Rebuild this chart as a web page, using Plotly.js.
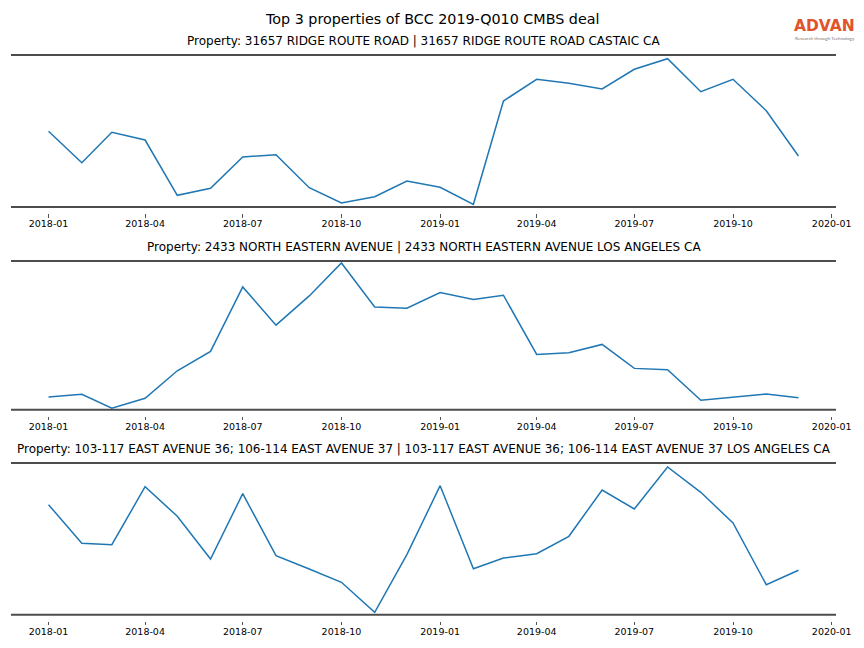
<!DOCTYPE html>
<html><head><meta charset="utf-8">
<script src="https://cdn.plot.ly/plotly-3.0.1.min.js"></script>
<style>html,body{margin:0;padding:0;background:#fff}#chart{width:864px;height:648px}</style>
</head><body><div id="chart"></div>
<script>
const months = ['2018-01-01','2018-02-01','2018-03-01','2018-04-01','2018-05-01','2018-06-01',
  '2018-07-01','2018-08-01','2018-09-01','2018-10-01','2018-11-01','2018-12-01',
  '2019-01-01','2019-02-01','2019-03-01','2019-04-01','2019-05-01','2019-06-01',
  '2019-07-01','2019-08-01','2019-09-01','2019-10-01','2019-11-01','2019-12-01'];
const mainTitle = 'Top 3 properties of BCC 2019-Q010 CMBS deal';
const propertyTitles = [
  'Property: 31657 RIDGE ROUTE ROAD | 31657 RIDGE ROUTE ROAD CASTAIC CA',
  'Property: 2433 NORTH EASTERN AVENUE | 2433 NORTH EASTERN AVENUE LOS ANGELES CA',
  'Property: 103-117 EAST AVENUE 36; 106-114 EAST AVENUE 37 | 103-117 EAST AVENUE 36; 106-114 EAST AVENUE 37 LOS ANGELES CA'
];
const ridgeRoute = [75.7,44.3,74.7,67,11.7,18.7,50,52.3,19.3,4,10.3,26,19.7,2.7,106,127.7,123.7,118,137.7,148.3,115.3,127.7,96.3,51];
const northEastern = [12.7,15.4,1.4,11.4,39,58.4,123,84.7,114,147,103,101.7,117.4,110.4,114.7,55.4,57,65.4,41.4,40,9.4,12.7,15.7,12];
const eastAvenue = [110,71.4,70,128,98.4,55.7,121,59,45.7,32.4,2.4,60,129,46,56.7,61,78.4,124.7,105.7,147.7,122.4,91.7,30,44.4];
const tickVals = ['2018-01-01','2018-04-01','2018-07-01','2018-10-01','2019-01-01','2019-04-01','2019-07-01','2019-10-01','2020-01-01'];
const tickLabels = ['2018-01','2018-04','2018-07','2018-10','2019-01','2019-04','2019-07','2019-10','2020-01'];

const series = [ridgeRoute, northEastern, eastAvenue];
const W = 864, H = 648;
const panelPx = [[55,207],[261,409.7],[463,614.7]];
const yRanges = [[0,152],[0,149],[0,151.7]];
const xDom = [11/W, 836/W];
const xRange = ['2017-11-27','2020-01-05'];
const spine = '#4d4d4d';

const data = [], shapes = [], annotations = [];
const layout = {
  width: W, height: H, margin:{l:0,r:0,t:0,b:0},
  paper_bgcolor:'#fff', plot_bgcolor:'#fff', showlegend:false,
  font:{family:'DejaVu Sans', color:'#000'}
};
series.forEach((vals, i) => {
  const n = i === 0 ? '' : String(i+1);
  const top = 1 - panelPx[i][0]/H, bot = 1 - panelPx[i][1]/H;
  data.push({x: months, y: vals, type:'scatter', mode:'lines',
    line:{color:'#1f77b4', width:1.5}, xaxis:'x'+n, yaxis:'y'+n, hoverinfo:'skip'});
  layout['xaxis'+n] = {domain:xDom, range:xRange, type:'date', anchor:'free',
    position: bot - 6/H, showline:false, showgrid:false, zeroline:false,
    tickmode:'array', tickvals:tickVals, ticktext:tickLabels,
    ticks:'outside', ticklen:3.5, tickwidth:1, tickcolor:'#555', ticklabelstandoff:-2,
    tickfont:{size:9.5, family:'DejaVu Sans', color:'#000'}};
  layout['yaxis'+n] = {domain:[bot, top], range:yRanges[i], visible:false, fixedrange:true};
  [top, bot].forEach(yy => shapes.push({type:'line', xref:'paper', yref:'paper',
    x0:xDom[0], x1:xDom[1], y0:yy, y1:yy, line:{color:spine, width:2}}));
  annotations.push({text: propertyTitles[i], xref:'paper', yref:'paper',
    x:(xDom[0]+xDom[1])/2, y: top + 14/H, xanchor:'center', yanchor:'middle',
    showarrow:false, font:{size:i === 2 ? 11.95 : 12, family:'DejaVu Sans', color:'#000'}});
});
annotations.push({text: mainTitle, xref:'paper', yref:'paper', x:0.5, y:1-19/H,
  xanchor:'center', yanchor:'middle', showarrow:false, font:{size:14.3, family:'DejaVu Sans', color:'#000'}});
annotations.push({text:'ADVAN', xref:'paper', yref:'paper', x:824.5/W, y:1-25.5/H,
  xanchor:'center', yanchor:'middle', showarrow:false, font:{size:15.5, weight:'bold', family:'DejaVu Sans', color:'#e0532b'}});
annotations.push({text:'Research through Technology', xref:'paper', yref:'paper', x:824.5/W, y:1-38/H,
  xanchor:'center', yanchor:'middle', showarrow:false, font:{size:4.6, family:'Lato', color:'#777'}});
layout.shapes = shapes;
layout.annotations = annotations;
Plotly.newPlot('chart', data, layout, {staticPlot:true, displayModeBar:false});
</script></body></html>
